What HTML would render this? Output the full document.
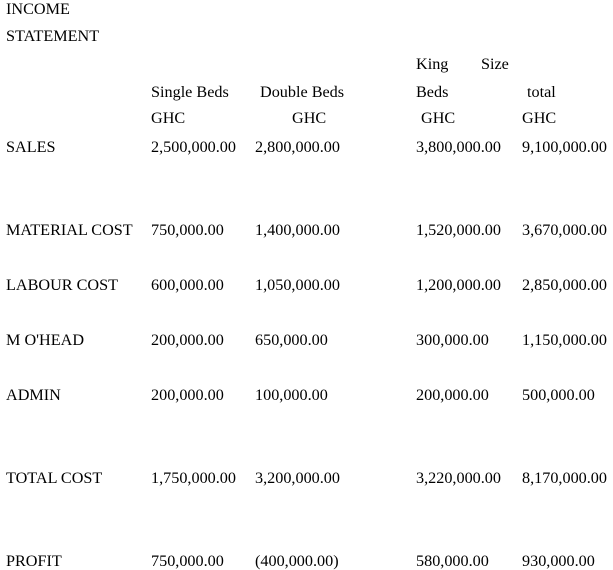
<!DOCTYPE html>
<html><head><meta charset="utf-8"><style>
html,body{margin:0;padding:0;background:#fff;}
body{width:613px;height:569px;position:relative;overflow:hidden;font-family:"Liberation Serif","Times New Roman",serif;font-size:16.2px;color:#000;}
div{position:absolute;white-space:nowrap;line-height:18px;}
</style></head><body>
<div style="left:6px;top:0px">INCOME</div>
<div style="left:6px;top:27px">STATEMENT</div>
<div style="left:416px;top:55px">King</div>
<div style="left:481px;top:55px">Size</div>
<div style="left:151px;top:83px">Single Beds</div>
<div style="left:260px;top:83px">Double Beds</div>
<div style="left:416px;top:83px">Beds</div>
<div style="left:527px;top:83px">total</div>
<div style="left:151px;top:109px">GHC</div>
<div style="left:292px;top:109px">GHC</div>
<div style="left:421px;top:109px">GHC</div>
<div style="left:522px;top:109px">GHC</div>

<div style="left:6px;top:138px">SALES</div>
<div style="left:151px;top:138px">2,500,000.00</div>
<div style="left:255px;top:138px">2,800,000.00</div>
<div style="left:416px;top:138px">3,800,000.00</div>
<div style="left:522px;top:138px">9,100,000.00</div>

<div style="left:6px;top:221px">MATERIAL COST</div>
<div style="left:151px;top:221px">750,000.00</div>
<div style="left:255px;top:221px">1,400,000.00</div>
<div style="left:416px;top:221px">1,520,000.00</div>
<div style="left:522px;top:221px">3,670,000.00</div>

<div style="left:6px;top:276px">LABOUR COST</div>
<div style="left:151px;top:276px">600,000.00</div>
<div style="left:255px;top:276px">1,050,000.00</div>
<div style="left:416px;top:276px">1,200,000.00</div>
<div style="left:522px;top:276px">2,850,000.00</div>

<div style="left:6px;top:331px">M O'HEAD</div>
<div style="left:151px;top:331px">200,000.00</div>
<div style="left:255px;top:331px">650,000.00</div>
<div style="left:416px;top:331px">300,000.00</div>
<div style="left:522px;top:331px">1,150,000.00</div>

<div style="left:6px;top:386px">ADMIN</div>
<div style="left:151px;top:386px">200,000.00</div>
<div style="left:255px;top:386px">100,000.00</div>
<div style="left:416px;top:386px">200,000.00</div>
<div style="left:522px;top:386px">500,000.00</div>

<div style="left:6px;top:469px">TOTAL COST</div>
<div style="left:151px;top:469px">1,750,000.00</div>
<div style="left:255px;top:469px">3,200,000.00</div>
<div style="left:416px;top:469px">3,220,000.00</div>
<div style="left:522px;top:469px">8,170,000.00</div>

<div style="left:6px;top:552px">PROFIT</div>
<div style="left:151px;top:552px">750,000.00</div>
<div style="left:255px;top:552px">(400,000.00)</div>
<div style="left:416px;top:552px">580,000.00</div>
<div style="left:522px;top:552px">930,000.00</div>
</body></html>
